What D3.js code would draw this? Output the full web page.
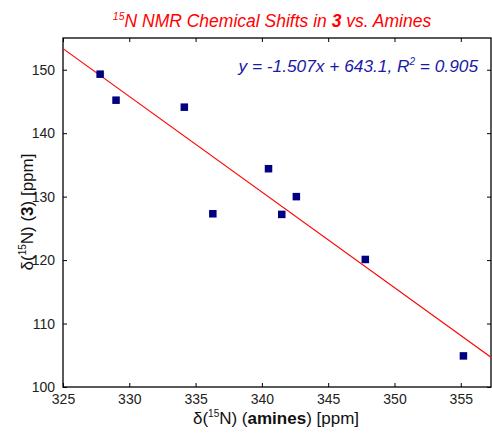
<!DOCTYPE html>
<html><head><meta charset="utf-8">
<script src="https://cdn.jsdelivr.net/npm/d3@7"></script>
<style>body{margin:0;background:#fff;} svg{display:block;font-family:"Liberation Sans",Arial,sans-serif;}</style>
</head><body>
<svg id="c" width="492" height="437"></svg>
<script>
const amines = [327.8, 329.0, 334.15, 336.3, 340.5, 341.5, 342.6, 347.8, 355.2];
const shifts3 = [149.3, 145.2, 144.1, 127.3, 134.4, 127.2, 130.0, 120.1, 104.9];
const xTicks = [325, 330, 335, 340, 345, 350, 355];
const yTicks = [100, 110, 120, 130, 140, 150];
const fitSlope = -1.507;
const fitIntercept = 643.1;

const svg = d3.select("#c");
const L = 63, R = 491, T = 38, B = 387;
const x = d3.scaleLinear().domain([325, 357.28]).range([L, R]);
const y = d3.scaleLinear().domain([100, 155]).range([B, T]);

svg.append("defs").append("clipPath").attr("id","clip")
  .append("rect").attr("x",L).attr("y",T).attr("width",R-L).attr("height",B-T);

// axes with inward ticks
const tickLen = 4;
const gB = svg.append("g").attr("transform",`translate(0,${B})`)
  .call(d3.axisBottom(x).tickValues(xTicks).tickSizeInner(-tickLen).tickSizeOuter(0).tickPadding(7));
const gT = svg.append("g").attr("transform",`translate(0,${T})`)
  .call(d3.axisTop(x).tickValues(xTicks).tickSizeInner(-tickLen).tickSizeOuter(0).tickFormat(""));
const gL = svg.append("g").attr("transform",`translate(${L},0)`)
  .call(d3.axisLeft(y).tickValues(yTicks).tickSizeInner(-tickLen).tickSizeOuter(0).tickPadding(8));
const gR = svg.append("g").attr("transform",`translate(${R},0)`)
  .call(d3.axisRight(y).tickValues(yTicks).tickSizeInner(-tickLen).tickSizeOuter(0).tickFormat(""));
[gB,gT,gL,gR].forEach(g=>{
  g.select(".domain").remove();
  g.selectAll("line").attr("stroke","#000").attr("stroke-width",1);
  g.selectAll("text").attr("font-size",14).attr("fill","#222").attr("font-family","Liberation Sans, Arial, sans-serif");
});
gB.selectAll("text").attr("dy","0.71em");
svg.append("rect").attr("x",L).attr("y",T).attr("width",R-L).attr("height",B-T)
  .attr("fill","none").attr("stroke","#000").attr("stroke-width",1.3);

// fit line
const xd = x.domain();
svg.append("line").attr("clip-path","url(#clip)")
  .attr("x1",x(xd[0])).attr("y1",y(fitSlope*xd[0]+fitIntercept))
  .attr("x2",x(xd[1])).attr("y2",y(fitSlope*xd[1]+fitIntercept))
  .attr("stroke","#ff0000").attr("stroke-width",1.2);

// points
const s = 7.5;
svg.append("g").selectAll("rect").data(amines).join("rect")
  .attr("x",(d,i)=>x(d)-s/2).attr("y",(d,i)=>y(shifts3[i])-s/2)
  .attr("width",s).attr("height",s).attr("fill","#000080");

// title
const title = svg.append("text").attr("x",272).attr("y",27).attr("text-anchor","middle")
  .attr("font-size",17.5).attr("font-style","italic").attr("fill","#ff0000");
title.append("tspan").attr("font-size",10.5).attr("dy",-7).text("15");
title.append("tspan").attr("dy",7).text("N NMR Chemical Shifts in ");
title.append("tspan").attr("font-weight","bold").text("3");
title.append("tspan").text(" vs. Amines");

// equation
const eq = svg.append("text").attr("x",478).attr("y",72).attr("text-anchor","end")
  .attr("font-size",17.3).attr("font-style","italic").attr("fill","#1a1aa6");
eq.append("tspan").text("y = -1.507x + 643.1, R");
eq.append("tspan").attr("font-size",10).attr("dy",-7).text("2");
eq.append("tspan").attr("dy",7).text(" = 0.905");

// x label
const xl = svg.append("text").attr("x",276).attr("y",424).attr("text-anchor","middle")
  .attr("font-size",17).attr("fill","#111");
xl.append("tspan").text("δ(");
xl.append("tspan").attr("font-size",10).attr("dy",-7).text("15");
xl.append("tspan").attr("dy",7).text("N) (");
xl.append("tspan").attr("font-weight","bold").text("amines");
xl.append("tspan").text(") [ppm]");

// y label
const yl = svg.append("text").attr("transform","translate(33,212) rotate(-90)").attr("text-anchor","middle")
  .attr("font-size",17).attr("fill","#111");
yl.append("tspan").text("δ(");
yl.append("tspan").attr("font-size",10).attr("dy",-7).text("15");
yl.append("tspan").attr("dy",7).text("N) (");
yl.append("tspan").attr("font-weight","bold").text("3");
yl.append("tspan").text(") [ppm]");
</script>
</body></html>
